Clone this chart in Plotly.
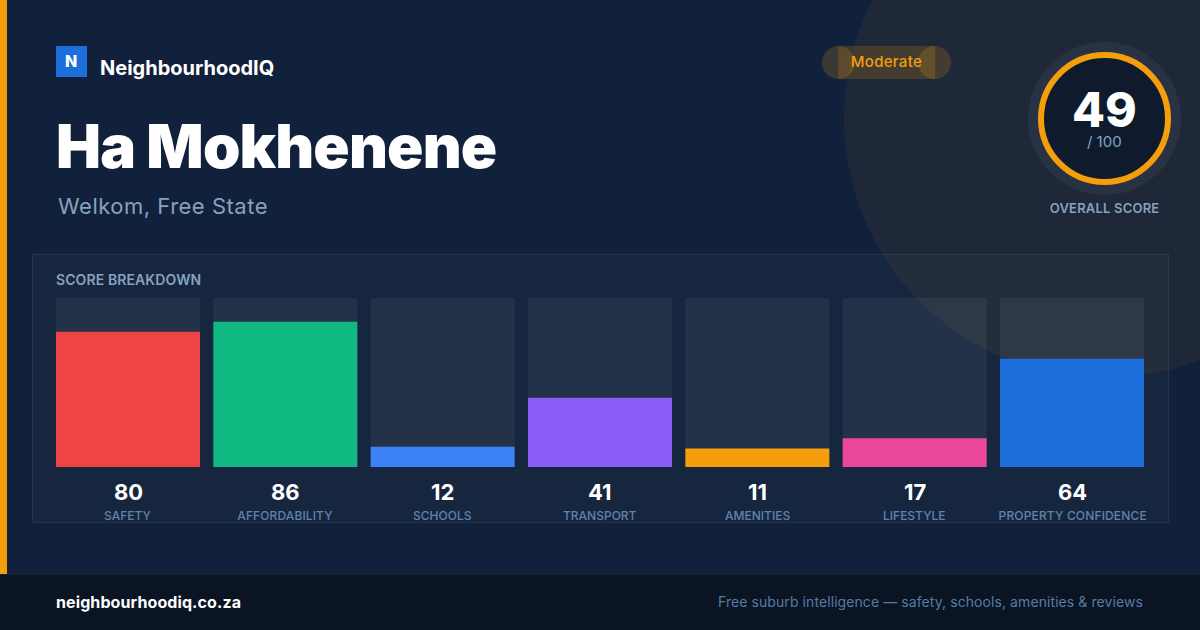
import plotly.graph_objects as go

W, H = 1200, 630

categories = ["SAFETY", "AFFORDABILITY", "SCHOOLS", "TRANSPORT", "AMENITIES", "LIFESTYLE", "PROPERTY CONFIDENCE"]
scores = [80, 86, 12, 41, 11, 17, 64]
bar_colors = ["#ef4444", "#10b981", "#3b82f6", "#8b5cf6", "#f59e0b", "#ec4899", "#1d6fdc"]
track = [100] * len(categories)

FONT = "Inter"
BG = "#12213b"
AMBER = "#f59e0b"
MUTED = "#86a2bf"

fig = go.Figure()

# decorative base subplot: pixel axes
fig.add_trace(go.Scatter(x=[0, W], y=[0, H], mode="markers", marker=dict(opacity=0), hoverinfo="skip",
                         showlegend=False, xaxis="x", yaxis="y"))
# score bars
fig.add_trace(go.Bar(x=categories, y=track, marker=dict(color="rgba(255,255,255,0.055)", line_width=0),
                     hoverinfo="skip", showlegend=False, xaxis="x2", yaxis="y2"))
fig.add_trace(go.Bar(x=categories, y=scores, marker=dict(color=bar_colors, line_width=0),
                     showlegend=False, xaxis="x2", yaxis="y2"))

shapes = []
def rect(x0, y0, x1, y1, fill, line=None):
    shapes.append(dict(type="rect", xref="x", yref="y", x0=x0, y0=y0, x1=x1, y1=y1, fillcolor=fill,
                       line=dict(width=1 if line else 0, color=line or "rgba(0,0,0,0)"), layer="below"))
def circle(cx, cy, r, fill, line=None, lw=0):
    shapes.append(dict(type="circle", xref="x", yref="y", x0=cx - r, y0=cy - r, x1=cx + r, y1=cy + r, fillcolor=fill,
                       line=dict(width=lw, color=line or "rgba(0,0,0,0)"), layer="below"))

# dot texture
path = ""
for px in range(24, W, 32):
    for py in range(24, 574, 32):
        path += f"M{px} {py}h2v2h-2Z"
shapes.append(dict(type="path", xref="x", yref="y", path=path, fillcolor="rgba(60,110,180,0.12)",
                   line=dict(width=0), layer="below"))

circle(1104, 118, 260, "rgba(245,158,11,0.06)")
rect(32.5, 254.5, 1168.5, 522.5, "rgba(255,255,255,0.025)", "rgba(255,255,255,0.08)")
rect(0, 0, 7, 574, AMBER)
rect(0, 574, W, H, "#0a1422")
rect(0, 574, W, 575, "rgba(255,255,255,0.06)")
rect(56, 46, 87, 77, "#1d6fdc")
# pill
rect(838, 46, 935, 79, "rgba(245,158,11,0.18)")
circle(838.5, 62.5, 16.5, "rgba(245,158,11,0.18)")
circle(934.5, 62.5, 16.5, "rgba(245,158,11,0.18)")
# ring
circle(1104.5, 118.5, 76.5, "rgba(255,255,255,0.05)")
circle(1104.5, 118.5, 63.5, "#0f1b2d", AMBER, 6)

def text(s, x, y, size, color, weight=400, anchor="left"):
    return dict(text=s, x=x / W, y=1 - y / H, xref="paper", yref="paper", xanchor=anchor, yanchor="middle",
                showarrow=False, align=anchor, borderpad=0,
                font=dict(family=FONT, size=size, color=color, weight=weight))

ann = [
    text("N", 71, 61, 16, "#ffffff", 800, "center"),
    text("NeighbourhoodIQ", 99, 68, 20, "#ffffff", 700),
    text("Ha Mokhenene", 54.5, 146, 60, "#ffffff", 870),
    text("Welkom, Free State", 57, 206, 22, MUTED, 400),
    text("Moderate", 886.5, 62, 15, AMBER, 500, "center"),
    text("49", 1104, 109, 48, "#ffffff", 800, "center"),
    text("/ 100", 1104.5, 141, 15, MUTED, 400, "center"),
    text("OVERALL SCORE", 1104.5, 208, 13, MUTED, 600, "center"),
    text("SCORE BREAKDOWN", 55, 279.5, 14, MUTED, 600),
    text("neighbourhoodiq.co.za", 55, 601.5, 16, "#ffffff", 700),
    text("Free suburb intelligence — safety, schools, amenities & reviews", 1144, 601.5, 14, "#567ca6", 400, "right"),
]
for c, v in zip(categories, scores):
    ann.append(dict(text=str(v), x=c, xref="x2", y=1 - 491.5 / H, yref="paper", yanchor="middle",
                    showarrow=False, font=dict(family=FONT, size=22, color="#ffffff", weight=700)))
    ann.append(dict(text=c, x=c, xref="x2", y=1 - 515 / H, yref="paper", yanchor="middle",
                    showarrow=False, font=dict(family=FONT, size=12, color="#6083ab", weight=500)))

fig.update_layout(
    width=W, height=H, margin=dict(l=0, r=0, t=0, b=0), autosize=False,
    paper_bgcolor=BG, plot_bgcolor="rgba(0,0,0,0)", showlegend=False,
    barmode="overlay", bargap=0.0847,
    xaxis=dict(range=[0, W], domain=[0, 1], visible=False, fixedrange=True),
    yaxis=dict(range=[H, 0], domain=[0, 1], visible=False, fixedrange=True),
    xaxis2=dict(domain=[49.33 / W, 1150.67 / W], range=[-0.5, 6.5], type="category", categoryorder="array",
                categoryarray=categories, visible=False, anchor="y2"),
    yaxis2=dict(domain=[1 - 467 / H, 1 - 298 / H], range=[0, 100], visible=False, anchor="x2"),
    shapes=shapes, annotations=ann,
)

post = """
document.documentElement.style.margin='0';document.body.style.margin='0';
document.documentElement.style.overflow='hidden';document.body.style.background='#12213b';
var LS={'Ha Mokhenene':-0.8,'Welkom, Free State':0.5,'Moderate':0.3,'OVERALL SCORE':0.2,'SCORE BREAKDOWN':0.1,
'neighbourhoodiq.co.za':0.1,'Free suburb intelligence — safety, schools, amenities & reviews':0.08,
'PROPERTY CONFIDENCE':0.15,'AFFORDABILITY':0.1};
function applyLS(){document.querySelectorAll('.annotation-text').forEach(function(t){
 var v=LS[t.textContent]; if(v!==undefined){t.style.letterSpacing=v+'px';}});}
applyLS();setTimeout(applyLS,0);setTimeout(applyLS,100);
"""
fig.write_html("out.html", config=dict(displayModeBar=False), post_script=post)
